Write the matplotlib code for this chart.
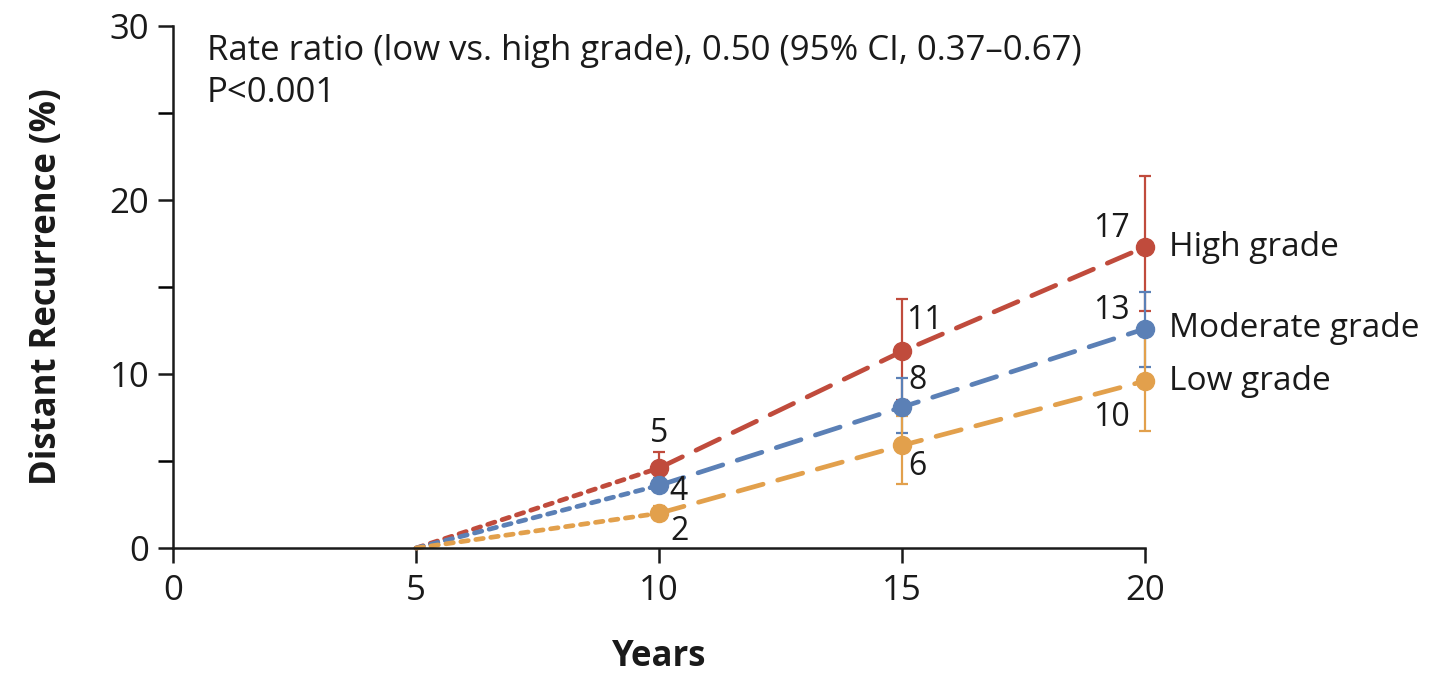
import matplotlib

matplotlib.use("Agg")
import matplotlib.pyplot as plt

plt.rcParams["font.family"] = ["Open Sans", "DejaVu Sans"]

# cumulative distant recurrence (%) by tumour grade
years = [10, 15, 20]
grades = ["High grade", "Moderate grade", "Low grade"]
high_pct = [4.6, 11.3, 17.3]
high_lo = [3.9, 8.5, 13.6]
high_hi = [5.5, 14.3, 21.4]
moderate_pct = [3.6, 8.1, 12.6]
moderate_lo = [3.2, 6.6, 10.4]
moderate_hi = [4.0, 9.8, 14.7]
low_pct = [2.0, 5.9, 9.6]
low_lo = [1.6, 3.7, 6.7]
low_hi = [2.4, 7.6, 12.3]
origin_year = 5
origin_pct = 0

COLOR_HIGH = "#c04b3c"
COLOR_MODERATE = "#5b80b6"
COLOR_LOW = "#e2a04c"
COLOR_TEXT = "#1a1a1a"

series = [
    (high_pct, high_lo, high_hi, COLOR_HIGH),
    (moderate_pct, moderate_lo, moderate_hi, COLOR_MODERATE),
    (low_pct, low_lo, low_hi, COLOR_LOW),
]

# value label offsets (points) for each grade at 10, 15, 20 years
label_offsets = [
    [(0, 25), (16, 22), (-24, 13)],
    [(14, -4), (11, 19), (-24, 13)],
    [(15, -13), (11, -15), (-24, -26)],
]

fig = plt.figure(figsize=(14.41, 6.75), dpi=100)
ax = fig.add_axes([0.120, 0.188, 0.6746, 0.7735])

for (pct, lo, hi, color), offsets in zip(series, label_offsets):
    ax.plot([origin_year, years[0]], [origin_pct, pct[0]], color=color, lw=3.4,
            linestyle=(0, (1.6, 1.6)), dash_capstyle="round", clip_on=False, zorder=2)
    ax.plot(years, pct, color=color, lw=3.4, linestyle=(0, (5.5, 3.2)),
            dash_capstyle="round", clip_on=False, zorder=2)
    yerr = [[p - l for p, l in zip(pct, lo)], [h - p for p, h in zip(pct, hi)]]
    ax.errorbar(years, pct, yerr=yerr, fmt="none", ecolor=color, elinewidth=1.6,
                capsize=4, capthick=1.6, clip_on=False, zorder=3)
    ax.plot(years, pct, "o", color=color, markersize=13, clip_on=False, zorder=4)
    for x, v, (dx, dy) in zip(years, pct, offsets):
        ax.annotate(f"{v:.0f}", (x, v), xytext=(dx, dy), textcoords="offset points",
                    ha="center", va="center", fontsize=23, color=COLOR_TEXT, zorder=5)

for name, pct in zip(grades, [high_pct, moderate_pct, low_pct]):
    ax.annotate(name, (years[-1], pct[-1]), xytext=(17, 0), textcoords="offset points",
                ha="left", va="center", fontsize=24, color=COLOR_TEXT, annotation_clip=False)

ax.text(0.035, 0.985, "Rate ratio (low vs. high grade), 0.50 (95% CI, 0.37\u20130.67)\nP<0.001",
        transform=ax.transAxes, ha="left", va="top", fontsize=25, color=COLOR_TEXT,
        linespacing=1.3)

ax.set_xlim(0, 20)
ax.set_ylim(0, 30)
ax.set_xticks([0, 5, 10, 15, 20])
ax.set_yticks([0, 10, 20, 30])
ax.set_yticks([5, 15, 25], minor=True)
ax.tick_params(axis="both", which="major", direction="out", length=11, width=1.8,
               labelsize=25, colors=COLOR_TEXT, pad=6)
ax.tick_params(axis="x", which="major", pad=8)
ax.tick_params(axis="y", which="minor", direction="out", length=11, width=1.8)
for spine in ("top", "right"):
    ax.spines[spine].set_visible(False)
for spine in ("left", "bottom"):
    ax.spines[spine].set_linewidth(1.8)
    ax.spines[spine].set_color(COLOR_TEXT)

ax.set_xlabel("Years", fontsize=25, fontweight="bold", color=COLOR_TEXT, labelpad=22)
ax.set_ylabel("Distant Recurrence (%)", fontsize=25, fontweight="bold", color=COLOR_TEXT,
              labelpad=32)

fig.savefig("out.png", dpi=100, facecolor="white")
